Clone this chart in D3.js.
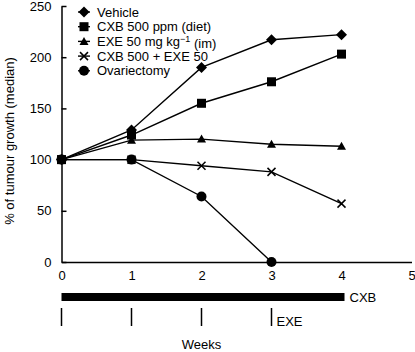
<!DOCTYPE html>
<html>
<head>
<meta charset="utf-8">
<script src="https://cdn.jsdelivr.net/npm/d3@7"></script>
<style>
  body { margin: 0; background: #fff; }
  svg { font-family: "Liberation Sans", Arial, sans-serif; }
  .axis text { font-size: 13px; fill: #000; }
  .axis path, .axis line { stroke: #000; stroke-width: 1.5px; }
</style>
</head>
<body>
<div id="chart"></div>
<script>
// weeks of treatment and median tumour growth (% of start)
const weeks = [0, 1, 2, 3, 4];
const vehicle = [100, 129, 190, 217, 222];
const cxb = [100, 124, 155, 176, 203];
const exe = [100, 119, 120, 115, 113];
const cxbExe = [100, 100, 94, 88, 57];
const ovx = [100, 100, 64, 0];
const seriesNames = ["Vehicle", "CXB 500 ppm (diet)", "EXE 50 mg kg", "CXB 500 + EXE 50", "Ovariectomy"];
const seriesShapes = ["diamond", "square", "triangle", "cross", "circle"];
const yTicks = [0, 50, 100, 150, 200, 250];
const xTicks = [0, 1, 2, 3, 4, 5];
const cxbPeriod = [0, 4];   // weeks on celecoxib
const exeDoses = [0, 1, 2, 3]; // weekly exemestane injections

const width = 415, height = 352;
var svg = d3.select("#chart").append("svg")
  .attr("width", width)
  .attr("height", height);

var x = d3.scaleLinear().domain([0, 5]).range([61.5, 411.5]);
var y = d3.scaleLinear().domain([0, 250]).range([262, 6]);

// y axis, ticks pointing inward
svg.append("g")
  .attr("class", "axis")
  .attr("transform", "translate(" + x(0) + ",0)")
  .call(d3.axisLeft(y).tickValues(yTicks).tickSizeInner(-5).tickSizeOuter(0).tickPadding(10));

// x axis, no ticks
svg.append("g")
  .attr("class", "axis")
  .attr("transform", "translate(0," + y(0) + ")")
  .call(d3.axisBottom(x).tickValues(xTicks).tickFormat(d3.format("d")).tickSize(0).tickPadding(9));

svg.append("text")
  .attr("transform", "translate(14,141) rotate(-90)")
  .attr("text-anchor", "middle")
  .style("font-size", "13px")
  .text("% of tumour growth (median)");

var allSeries = [vehicle, cxb, exe, cxbExe, ovx];

function marker(sel, shape) {
  if (shape === "diamond") {
    sel.append("path").attr("d", "M0,-5.5L5.5,0L0,5.5L-5.5,0Z");
  } else if (shape === "square") {
    sel.append("rect").attr("x", -4.5).attr("y", -4.5).attr("width", 9).attr("height", 9);
  } else if (shape === "triangle") {
    sel.append("path").attr("d", "M0,-4.5L4.5,3.5L-4.5,3.5Z");
  } else if (shape === "cross") {
    sel.append("path").attr("d", "M-4,-4L4,4M-4,4L4,-4")
      .attr("fill", "none").attr("stroke", "#000").attr("stroke-width", 1.5);
  } else {
    sel.append("circle").attr("r", 5);
  }
}

var line = d3.line()
  .x(function (d, i) { return x(weeks[i]); })
  .y(function (d) { return y(d); });

allSeries.forEach(function (vals, s) {
  svg.append("path")
    .datum(vals)
    .attr("fill", "none")
    .attr("stroke", "#000")
    .attr("stroke-width", 1.4)
    .attr("d", line);
  svg.selectAll(".pt" + s)
    .data(vals)
    .enter().append("g")
    .attr("class", "pt" + s)
    .attr("fill", "#000")
    .attr("transform", function (d, i) { return "translate(" + x(weeks[i]) + "," + y(d) + ")"; })
    .each(function () { marker(d3.select(this), seriesShapes[s]); });
});

// legend
var legend = svg.selectAll(".legend")
  .data(seriesNames)
  .enter().append("g")
  .attr("class", "legend")
  .attr("transform", function (d, i) { return "translate(78," + (12 + i * 14.7) + ")"; });

legend.append("line")
  .attr("x1", 0).attr("x2", 12)
  .attr("stroke", "#000").attr("stroke-width", 1.4);
legend.append("g")
  .attr("fill", "#000")
  .attr("transform", "translate(6,0)")
  .each(function (d, i) { marker(d3.select(this), seriesShapes[i]); });
var lt = legend.append("text")
  .attr("x", 19)
  .attr("dy", "0.35em")
  .style("font-size", "13px")
  .text(function (d) { return d; });
lt.filter(function (d, i) { return i === 2; })
  .each(function () {
    var t = d3.select(this);
    t.append("tspan").attr("dy", "-0.45em").style("font-size", "9px").text("\u22121");
    t.append("tspan").attr("dy", "0.45em").text(" (im)");
  });

// treatment schedule below the axis
svg.append("rect")
  .attr("x", x(cxbPeriod[0]))
  .attr("y", 293)
  .attr("width", x(cxbPeriod[1]) - x(cxbPeriod[0]) + 3)
  .attr("height", 8)
  .attr("fill", "#000");
svg.append("text")
  .attr("x", x(cxbPeriod[1]) + 8)
  .attr("y", 297)
  .attr("dy", "0.35em")
  .style("font-size", "13px")
  .text("CXB");

svg.selectAll(".dose")
  .data(exeDoses)
  .enter().append("line")
  .attr("class", "dose")
  .attr("x1", function (d) { return x(d); })
  .attr("x2", function (d) { return x(d); })
  .attr("y1", 308).attr("y2", 326)
  .attr("stroke", "#000").attr("stroke-width", 1.5);
svg.append("text")
  .attr("x", x(exeDoses[exeDoses.length - 1]) + 5)
  .attr("y", 321)
  .attr("dy", "0.35em")
  .style("font-size", "13px")
  .text("EXE");

svg.append("text")
  .attr("x", x(2))
  .attr("y", 344)
  .attr("dy", "0.35em")
  .attr("text-anchor", "middle")
  .style("font-size", "13px")
  .text("Weeks");
</script>
</body>
</html>
